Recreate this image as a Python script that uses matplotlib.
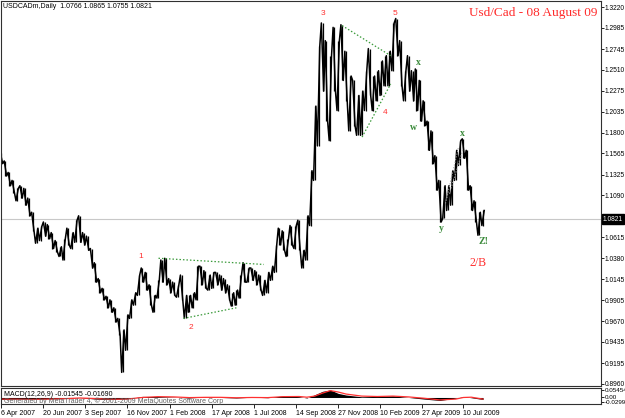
import numpy as np
import pandas as pd
import matplotlib
matplotlib.use('Agg')
import matplotlib.pyplot as plt
import matplotlib.transforms as mtransforms

# weekly bars, first bar = week ending 6 Apr 2007
start = pd.Timestamp('2007-04-06')
weekly_high = [1.157, 1.148, 1.135, 1.126, 1.117, 1.120, 1.117, 1.106, 1.090, 1.072,
               1.074, 1.079, 1.076, 1.067, 1.058, 1.051, 1.060, 1.072, 1.067, 1.081,
               1.086, 1.067, 1.063, 1.049, 1.033, 1.015, 1.004, 0.995, 0.991, 0.982,
               0.970, 0.957, 0.974, 0.991, 0.999, 1.019, 1.027, 1.022, 1.008, 0.996,
               1.013, 1.036, 1.038, 1.015, 1.011, 1.008, 1.019, 0.996, 0.996, 0.999,
               1.029, 1.029, 1.024, 1.019, 1.022, 1.022, 1.019, 1.015, 1.008, 0.999,
               1.002, 1.019, 1.033, 1.027, 1.027, 1.024, 1.019, 1.013, 1.022, 1.029,
               1.053, 1.072, 1.069, 1.060, 1.075, 1.075, 1.081, 1.047, 1.086, 1.137,
               1.210, 1.278, 1.304, 1.284, 1.267, 1.299, 1.284, 1.302, 1.272, 1.244,
               1.239, 1.222, 1.227, 1.250, 1.275, 1.244, 1.250, 1.261, 1.267, 1.272,
               1.304, 1.309, 1.284, 1.250, 1.267, 1.250, 1.252, 1.239, 1.216, 1.193,
               1.182, 1.154, 1.126, 1.120, 1.120, 1.137, 1.160, 1.171, 1.173, 1.160,
               1.120, 1.103, 1.090, 1.092]
weekly_low = [1.145, 1.131, 1.120, 1.112, 1.103, 1.106, 1.098, 1.086, 1.069, 1.055,
              1.058, 1.063, 1.060, 1.049, 1.045, 1.040, 1.036, 1.053, 1.049, 1.056,
              1.056, 1.053, 1.047, 1.027, 1.011, 0.999, 0.991, 0.982, 0.977, 0.966,
              0.951, 0.909, 0.934, 0.970, 0.985, 0.996, 1.011, 1.002, 0.985, 0.977,
              0.993, 1.011, 1.008, 0.999, 0.996, 0.994, 0.991, 0.970, 0.977, 0.982,
              0.991, 1.008, 1.004, 1.002, 1.004, 1.008, 1.002, 0.999, 0.991, 0.984,
              0.985, 0.993, 1.011, 1.011, 1.013, 1.008, 1.002, 0.996, 0.999, 1.013,
              1.022, 1.053, 1.047, 1.040, 1.053, 1.049, 1.047, 1.027, 1.036, 1.075,
              1.126, 1.165, 1.227, 1.193, 1.171, 1.227, 1.205, 1.239, 1.216, 1.182,
              1.188, 1.177, 1.177, 1.205, 1.222, 1.205, 1.216, 1.222, 1.233, 1.233,
              1.250, 1.267, 1.233, 1.216, 1.227, 1.216, 1.205, 1.193, 1.188, 1.160,
              1.145, 1.115, 1.079, 1.083, 1.092, 1.098, 1.126, 1.143, 1.151, 1.115,
              1.092, 1.079, 1.064, 1.075]
weeks = np.arange(len(weekly_high))

last_price = 1.0821

# MACD(12,26,9) read at selected weeks
macd_weeks = [0, 4, 8, 12, 16, 20, 24, 28, 32, 36, 40, 44, 48, 52, 56, 60, 64, 68,
              72, 76, 78, 80, 82, 84, 86, 88, 92, 96, 100, 104, 108, 112, 116, 118,
              120, 123]
macd_main = [-0.015, -0.012, -0.015, -0.010, -0.008, 0.000, -0.012, -0.015, -0.010,
             0.008, 0.006, 0.002, -0.004, 0.004, 0.000, -0.004, 0.002, -0.002, 0.012,
             0.006, -0.004, 0.020, 0.045, 0.055, 0.030, 0.018, 0.005, 0.008, 0.012,
             0.000, -0.012, -0.022, -0.005, 0.006, -0.002, -0.015]
macd_signal = [-0.012, -0.013, -0.014, -0.012, -0.009, -0.004, -0.008, -0.013, -0.012,
               0.000, 0.006, 0.004, -0.001, 0.001, 0.001, -0.002, 0.000, -0.001, 0.006,
               0.007, 0.002, 0.010, 0.032, 0.050, 0.040, 0.025, 0.010, 0.007, 0.010,
               0.004, -0.006, -0.018, -0.012, 0.000, 0.002, -0.012]

price_ticks = [1.3220, 1.2985, 1.2745, 1.2510, 1.2275, 1.2035, 1.1800, 1.1565, 1.1325,
               1.1090, 1.0855, 1.0615, 1.0380, 1.0145, 0.9905, 0.9670, 0.9435, 0.9195,
               0.8960]
date_labels = ['6 Apr 2007', '20 Jun 2007', '3 Sep 2007', '16 Nov 2007', '1 Feb 2008',
               '17 Apr 2008', '1 Jul 2008', '14 Sep 2008', '27 Nov 2008', '10 Feb 2009',
               '27 Apr 2009', '10 Jul 2009']

# wave counts (week, price, text)
red_waves = [(35.5, 1.040, '1'), (48.3, 0.960, '2'), (82.0, 1.315, '3'),
             (98.1, 1.203, '4'), (100.4, 1.315, '5')]
green_waves = [(105.2, 1.186, 'w'), (106.5, 1.259, 'x'), (112.4, 1.072, 'y'),
               (117.8, 1.179, 'x'), (123.1, 1.057, 'Z!')]
green_lines = [((40.1, 67.0), (1.038, 1.031)), ((46.5, 60.0), (0.970, 0.982)),
               ((87.0, 99.4), (1.301, 1.267)), ((92.1, 99.4), (1.175, 1.235))]
grey_lines = [((113.4, 116.7), (1.100, 1.163)), ((114.4, 117.8), (1.111, 1.160))]

W, H = 625, 418
fig = plt.figure(figsize=(W / 100, H / 100), dpi=100)
ax = fig.add_axes([0.5 / W, 1 - 386 / H, 600 / W, 385 / H])
axm = fig.add_axes([0.5 / W, 1 - 404 / H, 600 / W, 16 / H])

# jagged price path: each week visits its high and low, order set by the trend
hi = np.array(weekly_high)
lo = np.array(weekly_low)
mid = (hi + lo) / 2
path_x, path_y = [], []
for k in weeks:
    nxt = mid[k + 1] if k + 1 < len(mid) else mid[k]
    first, second = (hi[k], lo[k]) if nxt < mid[k] else (lo[k], hi[k])
    path_x += [k - 0.3, k + 0.3]
    path_y += [first, second]
ax.plot(path_x, path_y, color='black', lw=1.1)
ax.vlines(weeks, lo, hi, color='black', lw=0.9)
ax.axhline(last_price, color='#c8c8c8', lw=0.8, zorder=0)

for xs, ys in green_lines:
    ax.plot(xs, ys, color='#3a9a3a', lw=0.9, ls=(0, (1.2, 1.6)))
for xs, ys in grey_lines:
    ax.plot(xs, ys, color='#a0a0a0', lw=0.8, ls=(0, (1, 1.5)))
for x, y, t in red_waves:
    ax.text(x, y, t, color='#ff3030', fontsize=6, ha='center', va='center',
            family='Liberation Sans')
for x, y, t in green_waves:
    ax.text(x, y, t, color='#3a8a3a', fontsize=7, ha='center', va='center',
            family='Liberation Serif', fontweight='bold')
ax.text(121.8, 1.033, '2/B', color='#ff3030', fontsize=8.5, ha='center',
        va='center', family='Liberation Serif')

ax.set_xlim(-0.255, 153.0)
ax.set_ylim(0.8936, 1.3288)
ax.set_xticks([])
ax.yaxis.tick_right()
ax.set_yticks(price_ticks)
ax.set_yticklabels([f'{p:.4f}' for p in price_ticks])
ax.tick_params(axis='y', labelsize=4.8, length=2, pad=1, width=0.6)
for lab in ax.get_yticklabels():
    lab.set_family('Liberation Sans')

trans = mtransforms.blended_transform_factory(ax.transAxes, ax.transData)
ax.text(1.004, last_price, f'{last_price:.4f}', transform=trans, color='white',
        fontsize=4.8, va='center', ha='left', family='Liberation Sans', zorder=5,
        bbox=dict(boxstyle='square,pad=0.2', fc='black', ec='black'))

# MACD panel
axm.fill_between(macd_weeks, 0, macd_main, color='black', lw=0)
axm.plot(macd_weeks, macd_signal, color='#ff3030', lw=0.9)
axm.set_xlim(-0.255, 153.0)
axm.set_ylim(-0.0477, 0.0692)
axm.yaxis.tick_right()
axm.set_yticks([0.05454, 0.0, -0.0299])
axm.set_yticklabels(['0.05454', '0.00', '-0.0299'])
axm.tick_params(axis='y', labelsize=4.5, length=2, pad=1, width=0.6)
date_pos = [(pd.Timestamp(d) - start).days / 7 for d in date_labels]
axm.set_xticks(date_pos)
axm.set_xticklabels(date_labels)
axm.tick_params(axis='x', labelsize=5.0, length=3, pad=1, width=0.6)
for lab in axm.get_xticklabels():
    lab.set_ha('left')
    lab.set_family('Liberation Sans')
for lab in axm.get_yticklabels():
    lab.set_family('Liberation Sans')
axm.text(0.005, 0.62, 'MACD(12,26,9) -0.01545 -0.01690', transform=axm.transAxes,
         fontsize=5.0, va='center', family='Liberation Sans')
axm.text(0.005, 0.2, 'Generated by MetaTrader 4, \u00a9 2001-2009 MetaQuotes Software Corp',
         transform=axm.transAxes, fontsize=5.0, va='center', color='#606060',
         family='Liberation Sans')

for a in (ax, axm):
    for s in a.spines.values():
        s.set_linewidth(0.8)
        s.set_color('#303030')

fig.text(3 / W, 1 - 7 / H, 'USDCADm,Daily  1.0766 1.0865 1.0755 1.0821', fontsize=5.0,
         va='center', family='Liberation Sans')
fig.text(597 / W, 1 - 13 / H, 'Usd/Cad - 08 August 09', fontsize=9.5, ha='right',
         va='center', color='#ff2a2a', family='Liberation Serif')

fig.savefig('out.png', dpi=100)
